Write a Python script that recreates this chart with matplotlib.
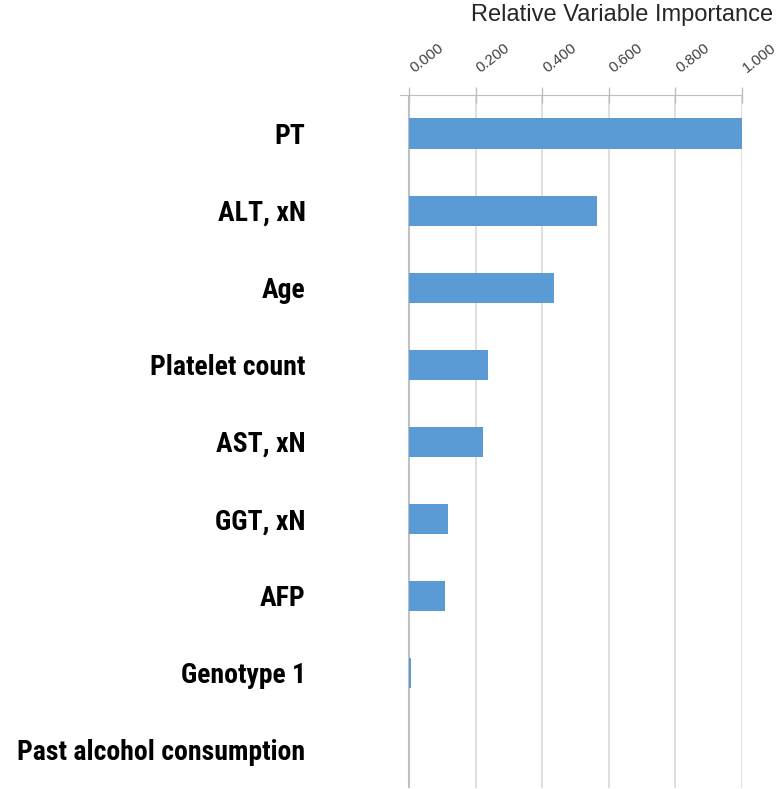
import matplotlib.pyplot as plt
import matplotlib.transforms as mtransforms
import numpy as np

# variable importance, top to bottom
names = ["PT", "ALT, xN", "Age", "Platelet count", "AST, xN",
         "GGT, xN", "AFP", "Genotype 1", "Past alcohol consumption"]
importance = [1.000, 0.566, 0.437, 0.238, 0.223, 0.117, 0.108, 0.006, 0.0]
ticks = [0.0, 0.2, 0.4, 0.6, 0.8, 1.0]
tick_labels = ["0.000", "0.200", "0.400", "0.600", "0.800", "1.000"]

fig = plt.figure(figsize=(7.79, 7.89), dpi=100)
ax = fig.add_axes([400/779, 0.001, 341.7/779, 1 - 95/789 - 0.001])

y = np.arange(len(names))
ax.barh(y, importance, height=0.39, color="#5B9BD5", zorder=3)
ax.set_ylim(len(names) - 0.5, -0.5)
ax.set_xlim(-0.027, 1.0)

# vertical gridlines
for t in ticks[1:]:
    ax.axvline(t, color="#D9D9D9", lw=1.2, zorder=1)
ax.axvline(0, color="#BFBFBF", lw=1.5, zorder=2)

ax.xaxis.tick_top()
ax.set_xticks(ticks)
ax.set_xticklabels(tick_labels, rotation=38, ha="left", rotation_mode="anchor",
                   fontsize=11, color="#404040", family="Liberation Sans")
ax.tick_params(axis="x", direction="inout", length=12, width=1, color="#BFBFBF", pad=8)
shift = mtransforms.ScaledTranslation(7/100, 0, fig.dpi_scale_trans)
for lab in ax.get_xticklabels():
    lab.set_transform(lab.get_transform() + shift)

ax.set_yticks(y)
ax.set_yticklabels(names, fontsize=20, fontweight="bold",
                   family=["Roboto Condensed", "DejaVu Sans"])
ax.tick_params(axis="y", length=0, pad=68)

for s in ["left", "right", "bottom"]:
    ax.spines[s].set_visible(False)
ax.spines["top"].set_color("#BFBFBF")

fig.text(773/779, 1 - 15/789, "Relative Variable Importance", ha="right", va="center",
         fontsize=17, color="#262626", family="Liberation Sans")

fig.savefig("out.png", dpi=100)
